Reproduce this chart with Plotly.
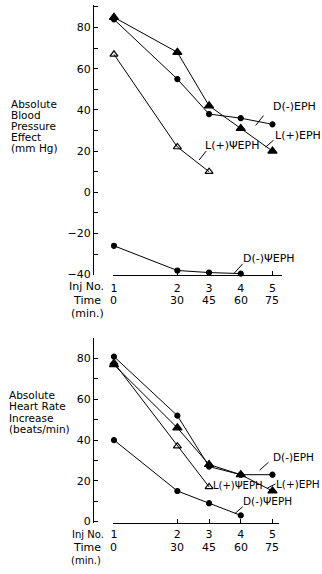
import plotly.graph_objects as go

W, H = 322, 574

# ---------------- data ----------------
inj_no = ["1", "2", "3", "4", "5"]
time_min = [0, 30, 45, 60, 75]
time_labels = ["0", "30", "45", "60", "75"]

# Blood pressure effect (mm Hg)
bp_d_eph = [84, 55, 38, 36, 33]
bp_l_eph = [85, 68, 42, 31, 20]
bp_l_psi = [67, 22, 10]
bp_d_psi = [-26, -38, -39, -39.5]

# Heart rate increase (beats/min)
hr_d_eph = [81, 52, 27, 23, 23]
hr_l_eph = [77, 46, 28, 23, 15]
hr_l_psi = [78, 37, 17]
hr_d_psi = [40, 15, 9, 3]

FONT = "DejaVu Sans"


def px(x):
    return x / W


def py(y):
    return 1 - y / H


fig = go.Figure()

line = dict(color="black", width=1)


def add_series(xa, ya, xs, ys, symbol, size, name):
    fig.add_trace(go.Scatter(
        x=xs[:len(ys)], y=ys, mode="lines+markers", name=name,
        xaxis=xa, yaxis=ya, line=line, cliponaxis=False,
        marker=dict(symbol=symbol, size=size, color="black",
                    line=dict(color="black", width=1.2)),
        showlegend=False))


# top panel
add_series("x", "y", time_min, bp_d_eph, "circle", 5, "D(-)EPH")
add_series("x", "y", time_min, bp_l_eph, "triangle-up", 8, "L(+)EPH")
add_series("x", "y", time_min, bp_l_psi, "triangle-up-open", 7, "L(+)ΨEPH")
add_series("x", "y", time_min, bp_d_psi, "circle", 5, "D(-)ΨEPH")
# bottom panel
add_series("x2", "y2", time_min, hr_d_eph, "circle", 5, "D(-)EPH")
add_series("x2", "y2", time_min, hr_l_eph, "triangle-up", 8, "L(+)EPH")
add_series("x2", "y2", time_min, hr_l_psi, "triangle-up-open", 7, "L(+)ΨEPH")
add_series("x2", "y2", time_min, hr_d_psi, "circle", 5, "D(-)ΨEPH")

x_scale = (272 - 112) / 75.0  # px per minute
x_left_px, x_right_top, x_right_bot = 111, 282, 279


def xrange_for(right_px):
    return [(x_left_px - 112) / x_scale, (right_px - 112) / x_scale]


tick_font = dict(family=FONT, size=11, color="black")

xcommon = dict(
    tickmode="array", tickvals=time_min, ticktext=inj_no,
    ticks="inside", ticklen=4, tickcolor="black", tickwidth=1,
    showline=True, linecolor="black", linewidth=1,
    showgrid=False, zeroline=False, tickfont=tick_font,
)
ycommon = dict(
    anchor="free", position=px(91),
    tickmode="linear", dtick=20,
    ticks="inside", ticklen=4, tickcolor="black", tickwidth=1,
    minor=dict(dtick=10, ticks="inside", ticklen=4, tickcolor="black"),
    showline=True, linecolor="black", linewidth=1.3,
    showgrid=False, zeroline=False, tickfont=tick_font,
)

fig.update_layout(
    width=W, height=H, margin=dict(l=0, r=0, t=0, b=0),
    paper_bgcolor="white", plot_bgcolor="white",
    font=dict(family=FONT, size=11, color="black"),
    xaxis=dict(domain=[px(x_left_px), px(x_right_top)], anchor="y",
               range=xrange_for(x_right_top), ticklabelstandoff=3, **xcommon),
    yaxis=dict(domain=[py(278), py(5)], range=[-40, 91], tick0=0, **ycommon),
    xaxis2=dict(domain=[px(x_left_px), px(x_right_bot)], anchor="y2",
                range=xrange_for(x_right_bot), ticklabelstandoff=1, **xcommon),
    yaxis2=dict(domain=[py(529), py(342)], range=[-0.5, 90.2], tick0=0,
                **ycommon),
)

ann = []


def text(x, y, t, xanchor="left", size=11):
    ann.append(dict(x=px(x), y=py(y), xref="paper", yref="paper", text=t,
                    showarrow=False, xanchor=xanchor, yanchor="middle",
                    font=dict(family=FONT, size=size, color="black")))


# y-axis titles (line by line, tight spacing)
for i, t in enumerate(["Absolute", "Blood", "Pressure", "Effect", "(mm Hg)"]):
    text(6, 105 + i * 11.3, t, size=10.5)
for i, t in enumerate(["Absolute", "Heart Rate", "Increase", "(beats/min)"]):
    text(4, 400 + i * 11.4, t, size=10.5)

# x-axis row labels
text(104, 290, "Inj No.", xanchor="right")
text(69, 304, "Time")
text(67, 317, "(min.)")
text(104, 541, "Inj No.", xanchor="right", size=10)
text(69, 554, "Time")
text(67, 567, "(min.)", size=10)

# time rows
for t, lab in zip(time_min, time_labels):
    ann.append(dict(x=t, y=py(304), xref="x", yref="paper", text=lab,
                    showarrow=False, xanchor="center", yanchor="middle",
                    font=tick_font))
    ann.append(dict(x=t, y=py(554), xref="x2", yref="paper", text=lab,
                    showarrow=False, xanchor="center", yanchor="middle",
                    font=tick_font))

# series labels
text(294, 108, "D(-)EPH", xanchor="center")
text(298, 137, "L(+)EPH", xanchor="center")
text(231, 147, "L(+)ΨEPH", xanchor="center")
text(269, 262, "D(-)ΨEPH", xanchor="center")
text(293, 463, "D(-)EPH", xanchor="center", size=10.5)
text(237, 491, "L(+)ΨEPH", xanchor="center", size=10)
text(298, 490, "L(+)EPH", xanchor="center", size=10.5)
text(267, 507, "D(-)ΨEPH", xanchor="center", size=10.5)

fig.update_layout(annotations=ann)

# leader lines
leaders = [
    (263, 117, 255, 127),
    (273, 142, 265, 149),
    (205, 153, 198, 162),
    (242, 267, 233, 277),
    (268, 468, 259, 476),
    (275, 490, 267, 494),
    (242, 513, 234, 520),
]
for x0, y0, x1, y1 in leaders:
    fig.add_shape(type="line", xref="paper", yref="paper",
                  x0=px(x0), y0=py(y0), x1=px(x1), y1=py(y1),
                  line=dict(color="black", width=1))

fig.write_html(
    "out.html",
    config={"displayModeBar": False},
    post_script=(
        "document.documentElement.style.margin='0';"
        "document.body.style.margin='0';document.body.style.padding='0';"
    ),
)
